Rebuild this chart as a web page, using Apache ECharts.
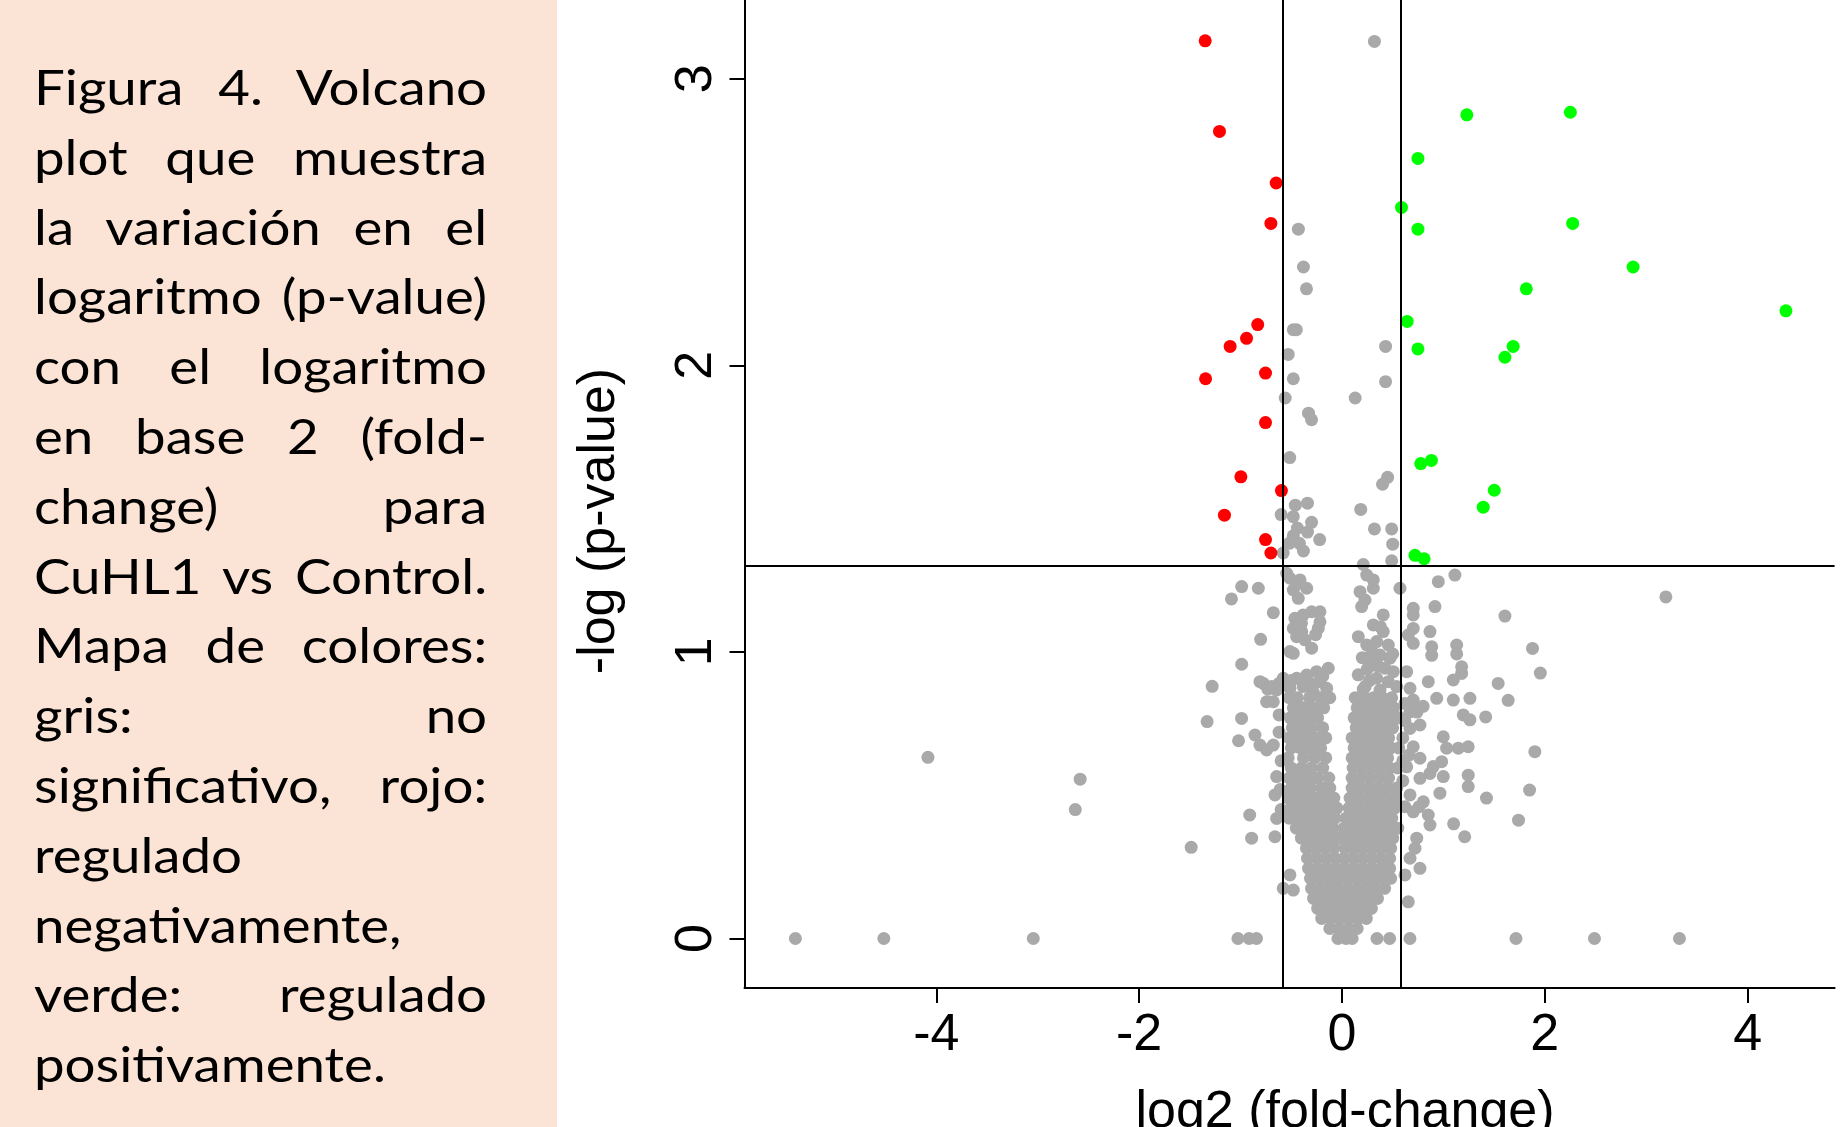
<!DOCTYPE html>
<html>
<head>
<meta charset="utf-8">
<script src="https://cdn.jsdelivr.net/npm/echarts@6/dist/echarts.min.js"></script>
<style>
  html, body { margin: 0; padding: 0; background: #fff; }
  #chart { position: absolute; left: 0; top: 0; width: 1844px; height: 1127px; }
  #caption {
    position: absolute; left: 0; top: 0; width: 557px; height: 1127px;
    box-sizing: border-box; padding: 52px 0 0 34px;
    background: #FBE4D5; color: #000;
    font-family: Lato, "Open Sans", sans-serif; font-size: 47.5px; line-height: 69.8px;
  }
  /* the source text is wider than Lato, so each line is stretched a little */
  #caption .ln { width: 394px; white-space: nowrap; transform: scaleX(1.15); transform-origin: 0 0; }
  #caption .j { text-align: justify; text-align-last: justify; }
</style>
</head>
<body>
<div id="chart"></div>
<div id="caption"></div>
<script>
  // caption text, one entry per printed line (true = justified line)
  var captionLines = [
    ['Figura 4. Volcano', true],
    ['plot que muestra', true],
    ['la variación en el', true],
    ['logaritmo (p-value)', true],
    ['con el logaritmo', true],
    ['en base 2 (fold-', true],
    ['change) para', true],
    ['CuHL1 vs Control.', true],
    ['Mapa de colores:', true],
    ['gris: no', true],
    ['significativo, rojo:', true],
    ['regulado', false],
    ['negativamente,', false],
    ['verde: regulado', true],
    ['positivamente.', false]
  ];

  // axis ranges and ticks
  var xRange = [-5.892, 4.858];
  var yRange = [-0.1727, 3.2746];
  var xTicks = [-4, -2, 0, 2, 4];
  var yTicks = [0, 1, 2, 3];
  var fcCut = 0.585;   // log2(1.5)
  var pCut = 1.301;    // -log10(0.05)

  // significant, down regulated
  var redPoints = [
    [-1.349, 3.132], [-1.208, 2.816], [-0.649, 2.636], [-0.701, 2.495],
    [-0.831, 2.142], [-0.941, 2.094], [-1.103, 2.066], [-1.345, 1.953],
    [-0.754, 1.973], [-0.754, 1.800], [-0.997, 1.611], [-0.597, 1.563],
    [-1.159, 1.477], [-0.754, 1.392], [-0.701, 1.345]
  ];

  // significant, up regulated
  var greenPoints = [
    [1.231, 2.874], [2.252, 2.883], [0.749, 2.722], [0.587, 2.551],
    [0.749, 2.475], [2.275, 2.495], [2.871, 2.343], [1.818, 2.267],
    [4.378, 2.190], [0.643, 2.153], [0.749, 2.057], [1.688, 2.066],
    [1.607, 2.028], [0.777, 1.657], [0.882, 1.668], [1.502, 1.564],
    [1.393, 1.505], [0.720, 1.337], [0.810, 1.325]
  ];

  // not significant, scattered points
  var greyPoints = [
    // above p threshold
    [0.32, 3.13], [-0.43, 2.475], [-0.38, 2.343], [-0.35, 2.267], [-0.48, 2.124],
    [-0.45, 2.124], [-0.53, 2.038], [0.43, 2.066], [-0.48, 1.953], [0.43, 1.943],
    [-0.56, 1.886], [0.13, 1.886], [-0.33, 1.833], [-0.30, 1.81], [-0.515, 1.678],
    [0.45, 1.609], [0.40, 1.585], [0.185, 1.497], [-0.60, 1.479], [-0.46, 1.512],
    [-0.34, 1.519], [-0.48, 1.472], [-0.30, 1.452], [-0.44, 1.432], [-0.34, 1.418],
    [-0.22, 1.392], [-0.52, 1.379], [-0.42, 1.379], [-0.38, 1.352], [-0.58, 1.345],
    [-0.48, 1.405], [0.32, 1.429], [0.49, 1.429], [0.50, 1.376], [0.49, 1.318],
    [0.21, 1.305],
    // left side, sparse
    [-0.989, 1.228], [-0.825, 1.222], [-0.677, 1.137], [-0.802, 1.044], [-0.989, 0.957],
    [-1.09, 1.185], [-1.28, 0.88], [-1.33, 0.757], [-0.99, 0.768], [-1.02, 0.69],
    [-0.91, 0.431], [-0.891, 0.35], [-0.858, 0.71], [-0.809, 0.675], [-0.743, 0.658],
    [-0.677, 0.675], [-0.743, 0.826], [-0.677, 0.826], [-0.644, 0.419], [-0.644, 0.565],
    [-0.661, 0.501], [-0.661, 0.355], [-0.513, 0.222], [-0.579, 0.175], [-0.48, 0.169],
    [-0.62, 0.78], [-0.60, 0.62], [-0.61, 0.52], [-0.60, 0.45], [-0.62, 0.72],
    [-4.083, 0.632], [-2.582, 0.556], [-2.63, 0.45], [-1.487, 0.318],
    // left arm, upper part
    [-0.545, 1.274], [-0.513, 1.257], [-0.414, 1.251], [-0.48, 1.216], [-0.348, 1.222],
    [-0.431, 1.187], [-0.464, 1.117], [-0.382, 1.129], [-0.299, 1.14], [-0.217, 1.14],
    [-0.217, 1.105], [-0.48, 1.082], [-0.397, 1.071], [-0.234, 1.082], [-0.447, 1.053],
    [-0.365, 1.042], [-0.299, 1.013], [-0.513, 1.001], [-0.48, 0.995], [-0.42, 1.24],
    [-0.40, 1.10], [-0.26, 1.06],
    [-0.809, 0.896], [-0.579, 0.908], [-0.447, 0.908], [-0.348, 0.919], [-0.25, 0.931],
    [-0.135, 0.943], [-0.217, 0.896], [-0.382, 0.879], [-0.513, 0.873], [-0.644, 0.867],
    [-0.283, 0.861], [-0.151, 0.873], [-0.776, 0.89], [-0.693, 0.879], [-0.73, 0.87],
    [-0.62, 0.89], [-0.50, 0.90], [-0.31, 0.89], [-0.19, 0.915],
    // right arm, upper part
    [0.178, 1.21], [0.194, 1.158], [0.161, 1.053], [0.244, 1.024], [0.244, 1.268],
    [0.227, 1.181], [0.309, 1.251], [0.309, 1.222], [0.572, 1.222], [0.407, 1.129],
    [0.309, 1.094], [0.407, 1.071], [0.342, 1.036], [0.457, 1.024], [0.375, 0.989],
    [0.473, 0.978], [0.309, 0.954], [0.424, 0.943], [0.506, 0.931], [0.342, 0.908],
    [0.457, 0.896], [0.539, 0.879], [0.375, 0.867], [0.638, 0.931], [0.38, 1.087],
    [0.50, 0.993], [0.26, 0.98], [0.27, 0.90], [0.25, 0.94], [0.21, 0.87],
    [0.30, 1.00], [0.36, 0.95], [0.20, 0.98], [0.16, 0.92], [0.23, 0.88],
    // right side, sparse
    [1.114, 1.268], [0.95, 1.245], [0.703, 1.152], [0.703, 1.129], [0.917, 1.158],
    [0.868, 1.071], [0.703, 1.082], [0.654, 1.059], [0.703, 1.03], [0.885, 1.018],
    [0.885, 0.988], [1.131, 1.024], [1.131, 0.993], [1.18, 0.948], [1.18, 0.925],
    [1.098, 0.902], [0.851, 0.896], [0.671, 0.873], [1.54, 0.89], [1.607, 1.125],
    [1.879, 1.012], [1.956, 0.926], [1.639, 0.831], [1.417, 0.773], [1.902, 0.652],
    [1.85, 0.518], [1.425, 0.49], [1.741, 0.413], [1.21, 0.355], [1.101, 0.40],
    [3.194, 1.192],
    [0.703, 0.832], [0.934, 0.838], [1.098, 0.832], [1.262, 0.838], [0.671, 0.791],
    [0.769, 0.745], [0.671, 0.733], [1.196, 0.78], [1.262, 0.763], [0.999, 0.704],
    [0.703, 0.669], [1.032, 0.664], [1.147, 0.664], [1.245, 0.669], [0.769, 0.629],
    [0.983, 0.617], [0.638, 0.599], [0.868, 0.576], [0.769, 0.559], [0.999, 0.565],
    [1.245, 0.57], [1.245, 0.53], [0.966, 0.507], [0.671, 0.501], [0.802, 0.477],
    [0.703, 0.442], [0.851, 0.431], [0.62, 0.82], [0.80, 0.81], [0.62, 0.76],
    [0.74, 0.79], [0.60, 0.70], [0.66, 0.64], [0.60, 0.55], [0.62, 0.46],
    [0.76, 0.46], [0.90, 0.60], [0.60, 0.62],
    [0.737, 0.35], [0.72, 0.315], [0.671, 0.28], [0.769, 0.245], [0.868, 0.396],
    [0.654, 0.128], [0.621, 0.222],
    // p-value of 1 (zero row)
    [-5.39, 0], [-4.518, 0], [-3.044, 0], [-1.026, 0], [-0.916, 0], [-0.843, 0],
    [0.345, 0], [0.47, 0], [0.67, 0], [1.716, 0], [2.49, 0], [3.328, 0]
  ];

  // not significant, dense core: [y, [x values along that row]]
  var greyRows = [
    [0.00, [-0.04, 0.04, 0.10]],
    [0.035, [-0.12, -0.03, 0.06, 0.15]],
    [0.07, [-0.20, -0.11, -0.02, 0.07, 0.16, 0.24]],
    [0.105, [-0.24, -0.15, -0.06, 0.03, 0.12, 0.21, 0.29]],
    [0.14, [-0.28, -0.19, -0.10, -0.01, 0.08, 0.17, 0.26, 0.35]],
    [0.175, [-0.30, -0.21, -0.12, -0.03, 0.06, 0.15, 0.24, 0.33, 0.42]],
    [0.21, [-0.31, -0.22, -0.13, -0.04, 0.05, 0.14, 0.23, 0.32, 0.41, 0.48]],
    [0.245, [-0.33, -0.24, -0.15, -0.06, 0.03, 0.12, 0.21, 0.30, 0.39, 0.47]],
    [0.28, [-0.34, -0.25, -0.16, -0.07, 0.02, 0.11, 0.20, 0.29, 0.38, 0.47]],
    [0.315, [-0.35, -0.26, -0.17, -0.08, 0.03, 0.12, 0.21, 0.30, 0.39, 0.48]],
    [0.35, [-0.40, -0.31, -0.22, -0.13, -0.04, 0.06, 0.15, 0.24, 0.33, 0.42, 0.50]],
    [0.385, [-0.45, -0.36, -0.27, -0.18, -0.09, 0.02, 0.11, 0.20, 0.29, 0.38, 0.47, 0.55]],
    [0.42, [-0.52, -0.43, -0.34, -0.25, -0.16, -0.07, 0.04, 0.13, 0.22, 0.31, 0.40, 0.49]],
    [0.455, [-0.50, -0.41, -0.32, -0.23, -0.14, -0.05, 0.07, 0.16, 0.25, 0.34, 0.43, 0.52]],
    [0.49, [-0.53, -0.44, -0.35, -0.26, -0.17, -0.08, 0.08, 0.17, 0.26, 0.35, 0.44, 0.53]],
    [0.525, [-0.50, -0.41, -0.31, -0.20, -0.12, 0.10, 0.18, 0.27, 0.36, 0.45, 0.54]],
    [0.56, [-0.52, -0.43, -0.34, -0.24, -0.13, 0.10, 0.19, 0.28, 0.37, 0.46]],
    [0.595, [-0.50, -0.40, -0.30, -0.19, 0.11, 0.20, 0.29, 0.38, 0.47, 0.55]],
    [0.63, [-0.53, -0.38, -0.27, -0.16, 0.10, 0.18, 0.27, 0.36, 0.45]],
    [0.665, [-0.50, -0.41, -0.31, -0.21, 0.12, 0.21, 0.30, 0.39, 0.48, 0.56]],
    [0.70, [-0.52, -0.43, -0.34, -0.25, -0.16, 0.10, 0.19, 0.28, 0.37, 0.46]],
    [0.735, [-0.49, -0.40, -0.30, -0.19, 0.14, 0.23, 0.32, 0.41, 0.50]],
    [0.77, [-0.51, -0.42, -0.33, -0.24, 0.12, 0.21, 0.30, 0.39, 0.48, 0.57]],
    [0.805, [-0.48, -0.38, -0.28, -0.18, 0.15, 0.24, 0.33, 0.42, 0.51]],
    [0.84, [-0.52, -0.44, -0.32, -0.21, -0.12, 0.13, 0.22, 0.31, 0.40, 0.49]]
  ];

  var captionBox = document.getElementById('caption');
  captionLines.forEach(function(line) {
    var div = document.createElement('div');
    div.className = line[1] ? 'ln j' : 'ln';
    div.textContent = line[0];
    captionBox.appendChild(div);
  });

  var greyData = greyPoints.slice();
  greyRows.forEach(function(row) {
    row[1].forEach(function(x) {
      greyData.push([x, row[0]]);
    });
  });

  var axisFont = { fontFamily: '"Liberation Sans", Arial, sans-serif', fontSize: 52, color: '#000' };

  var chart = echarts.init(document.getElementById('chart'));
  chart.setOption({
    animation: false,
    backgroundColor: '#fff',
    grid: { left: 744.5, right: 9.4, top: 0, bottom: 139 },
    xAxis: {
      type: 'value',
      min: xRange[0],
      max: xRange[1],
      axisLine: { onZero: false, lineStyle: { color: '#000', width: 2 } },
      axisTick: { customValues: xTicks, length: 15, lineStyle: { color: '#000', width: 2 } },
      axisLabel: Object.assign({ customValues: xTicks, margin: 22 }, axisFont),
      splitLine: { show: false }
    },
    yAxis: {
      type: 'value',
      min: yRange[0],
      max: yRange[1],
      axisLine: { show: true, onZero: false, lineStyle: { color: '#000', width: 2 } },
      axisTick: { show: true, customValues: yTicks, length: 15, lineStyle: { color: '#000', width: 2 } },
      axisLabel: Object.assign({ customValues: yTicks, rotate: 90, margin: 22 }, axisFont),
      splitLine: { show: false }
    },
    graphic: [
      {
        type: 'text', x: 600, y: 521, rotation: Math.PI / 2,
        style: Object.assign({ text: '-log (p-value)', align: 'center', verticalAlign: 'middle' }, axisFont, { fill: '#000' })
      },
      {
        type: 'text', x: 1345, y: 1113,
        style: Object.assign({ text: 'log2 (fold-change)', align: 'center', verticalAlign: 'middle' }, axisFont, { fill: '#000' })
      }
    ],
    series: [
      {
        name: 'no significativo', type: 'scatter', data: greyData,
        symbolSize: 13, itemStyle: { color: '#A9A9A9', opacity: 1 }, z: 2
      },
      {
        name: 'regulado negativamente', type: 'scatter', data: redPoints,
        symbolSize: 13, itemStyle: { color: '#FF0000', opacity: 1 }, z: 3
      },
      {
        name: 'regulado positivamente', type: 'scatter', data: greenPoints,
        symbolSize: 13, itemStyle: { color: '#00FF00', opacity: 1 }, z: 3
      },
      {
        name: 'umbrales', type: 'scatter', data: [], z: 4,
        markLine: {
          silent: true, symbol: ['none', 'none'], label: { show: false },
          lineStyle: { color: '#000', width: 2, type: 'solid' },
          data: [{ xAxis: -fcCut }, { xAxis: fcCut }, { yAxis: pCut }]
        }
      }
    ]
  });
</script>
</body>
</html>
